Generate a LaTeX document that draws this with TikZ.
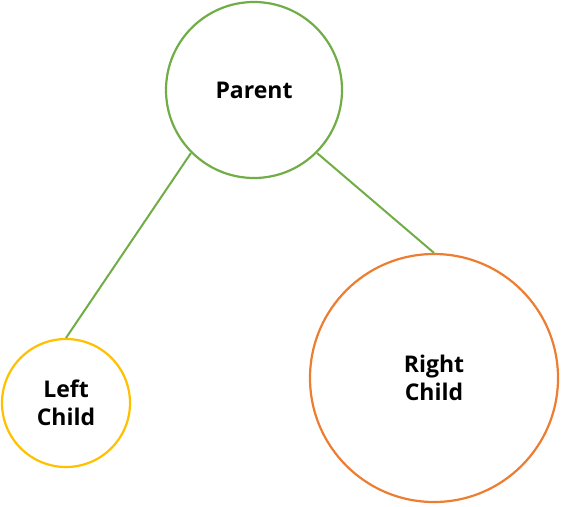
\documentclass[tikz,border=0pt]{standalone}
\usepackage{fontspec}
\setmainfont{Open Sans}[BoldFont={* Bold}]
\usetikzlibrary{positioning}
\definecolor{parentc}{RGB}{112,173,71}
\definecolor{leftc}{RGB}{255,192,0}
\definecolor{rightc}{RGB}{237,125,49}

\begin{document}
\begin{tikzpicture}[x=1pt, y=-1pt,
  font=\bfseries\fontsize{23pt}{28pt}\selectfont,
  tree/.style={draw,circle,line width=2.2pt,inner sep=0pt,align=center}]
\useasboundingbox (0,0) rectangle (561,506);
\node(parent)[tree,draw=parentc,minimum size=176pt] at (254,90) {Parent};
\node(left)[tree,draw=leftc,minimum size=128pt] at (66,403) {Left\\Child};
\node(right)[tree,draw=rightc,minimum size=248pt] at (434,378) {Right\\Child};

\draw[parentc,line width=2pt] (parent.225) -- (left.north);
\draw[parentc,line width=2pt] (parent.315) -- (right.north);

\end{tikzpicture}
\end{document}
